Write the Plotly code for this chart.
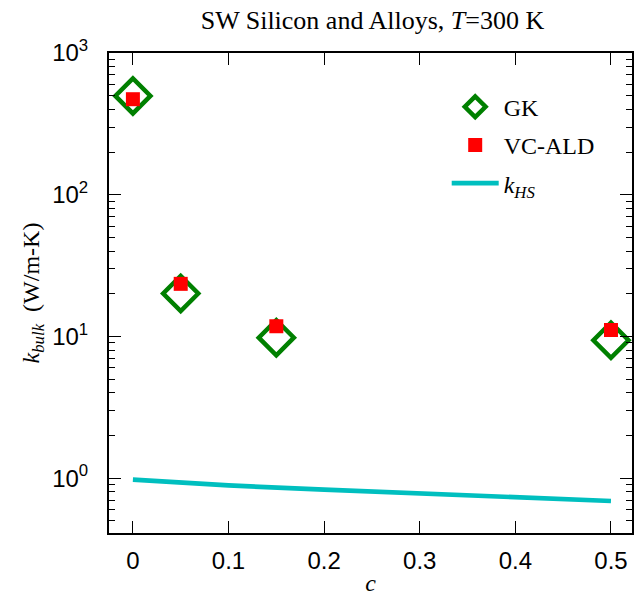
import plotly.graph_objects as go

# Data
c_pts = [0.0, 0.05, 0.15, 0.5]
gk_vals = [498, 20.1, 9.8, 9.4]
vcald_vals = [472, 23.5, 11.8, 11.1]
c_hs = [0.0, 0.05, 0.1, 0.2, 0.3, 0.4, 0.5]
khs_vals = [0.975, 0.925, 0.889, 0.83, 0.785, 0.736, 0.69]

x_ticks = [0, 0.1, 0.2, 0.3, 0.4, 0.5]
x_ticktext = ["0", "0.1", "0.2", "0.3", "0.4", "0.5"]
y_ticks = [1, 10, 100, 1000]
y_ticktext = ["10<sup>0</sup>", "10<sup>1</sup>", "10<sup>2</sup>", "10<sup>3</sup>"]
y_minor = [m * 10 ** e for e in range(-1, 3) for m in range(2, 10)]

GREEN = "rgb(0,128,0)"
RED = "rgb(255,0,0)"
CYAN = "rgb(0,191,191)"
SERIF = "Liberation Serif, DejaVu Serif, serif"
SANS = "Liberation Sans, Arial, sans-serif"

fig = go.Figure()
fig.add_trace(go.Scatter(
    x=c_pts, y=gk_vals, mode="markers", name="GK", legendgroup="a",
    marker=dict(symbol="diamond-open", size=27, color=GREEN, line=dict(color=GREEN, width=4.5)),
))
fig.add_trace(go.Scatter(
    x=c_pts, y=vcald_vals, mode="markers", name="VC-ALD", legendgroup="b",
    marker=dict(symbol="square", size=14, color=RED, line=dict(width=0)),
))
fig.add_trace(go.Scatter(
    x=c_hs, y=khs_vals, mode="lines", name="<i>k</i><sub><i>HS</i></sub>", legendgroup="c",
    line=dict(color=CYAN, width=4.7),
))

axis_common = dict(
    showline=True, linecolor="black", linewidth=2, mirror="ticks",
    ticks="inside", ticklen=12, tickwidth=1.3, tickcolor="black",
    showgrid=False, zeroline=False,
    tickfont=dict(family=SANS, size=24, color="black"),
)

fig.update_layout(
    width=634, height=596,
    margin=dict(l=109, r=0, t=53, b=63),
    paper_bgcolor="white", plot_bgcolor="white",
    title=dict(
        text="SW Silicon and Alloys, <i>T</i>=300 K",
        x=0.5875, xanchor="center", y=0.966, yanchor="middle",
        font=dict(family=SERIF, size=26, color="black"),
    ),
    xaxis=dict(
        range=[-0.025, 0.522], tickvals=x_ticks, ticktext=x_ticktext,
        ticklabelstandoff=5,
        title=dict(text="<i>c</i>", font=dict(family=SERIF, size=24, color="black"), standoff=4),
        **axis_common,
    ),
    yaxis=dict(
        type="log", range=[-0.387, 3.0], tickvals=y_ticks, ticktext=y_ticktext,
        ticklabelstandoff=14,
        title=dict(text="<i>k</i><sub><i>bulk</i></sub>  (W/m-K)", font=dict(family=SERIF, size=24, color="black"), standoff=6),
        minor=dict(ticks="inside", ticklen=6, tickwidth=1.2, tickcolor="black", tickvals=y_minor, showgrid=False),
        **axis_common,
    ),
    legend=dict(
        x=0.6457, y=0.934, xanchor="left", yanchor="top",
        bgcolor="rgba(0,0,0,0)", borderwidth=0,
        font=dict(family=SERIF, size=24, color="black"),
        traceorder="grouped", tracegroupgap=4, itemwidth=47,
    ),
    showlegend=True,
)

fig.write_html("out.html")
